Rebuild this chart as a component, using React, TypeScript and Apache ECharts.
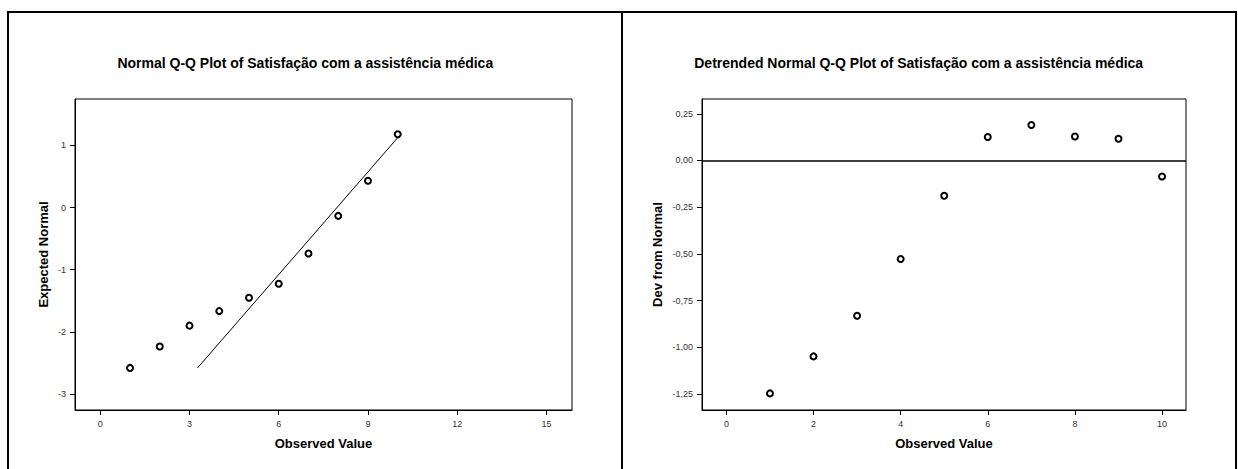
import React, { useEffect, useRef } from "react";
import * as echarts from "echarts";

const observedValues = [1, 2, 3, 4, 5, 6, 7, 8, 9, 10];
const expectedNormal = [-2.58, -2.235, -1.9, -1.666, -1.45, -1.227, -0.74, -0.134, 0.43, 1.18];
const devFromNormal = [-1.247, -1.049, -0.831, -0.528, -0.189, 0.126, 0.19, 0.128, 0.116, -0.086];
const refLineX = [3.27, 10.03];
const refLineY = [-2.58, 1.14];

const leftXTicks = [0, 3, 6, 9, 12, 15];
const leftYTicks = [-3, -2, -1, 0, 1];
const rightXTicks = [0, 2, 4, 6, 8, 10];
const rightYTicks = [-1.25, -1.0, -0.75, -0.5, -0.25, 0, 0.25];

const leftTitle = "Normal Q-Q Plot of Satisfação com a assistência médica";
const rightTitle = "Detrended Normal Q-Q Plot of Satisfação com a assistência médica";
const xName = "Observed Value";
const leftYName = "Expected Normal";
const rightYName = "Dev from Normal";

const FONT = "'Liberation Sans', Arial, Helvetica, sans-serif";

function axisCommon(ticks: number[], formatter?: (v: number) => string) {
  return {
    type: "value" as const,
    axisLine: { show: true, onZero: false, lineStyle: { color: "#000", width: 1 } },
    axisTick: { show: true, inside: false, length: 5, customValues: ticks, lineStyle: { color: "#000", width: 1 } },
    axisLabel: {
      show: true,
      customValues: ticks,
      fontSize: 9,
      color: "#333",
      fontFamily: FONT,
      margin: 9,
      formatter: formatter || ((v: number) => String(v)),
    },
    splitLine: { show: false },
    nameLocation: "middle" as const,
    nameTextStyle: { fontSize: 13, fontWeight: "bold" as const, color: "#000", fontFamily: FONT },
  };
}

const commaFmt = (v: number) => v.toFixed(2).replace(".", ",");

export default function App() {
  const ref = useRef<HTMLDivElement>(null);
  useEffect(() => {
    if (!ref.current) return;
    const chart = echarts.init(ref.current, undefined, { renderer: "svg" });
    const scatterStyle = {
      type: "scatter" as const,
      symbol: "circle",
      symbolSize: 6,
      itemStyle: { color: "#fff", borderColor: "#000", borderWidth: 2, opacity: 1 },
      silent: true,
    };
    chart.setOption({
      animation: false,
      backgroundColor: "#fff",
      grid: [
        { left: 75, top: 99, width: 497, height: 311, show: true, borderColor: "#000", borderWidth: 1, backgroundColor: "transparent" },
        { left: 702, top: 99, width: 484, height: 311, show: true, borderColor: "#000", borderWidth: 1, backgroundColor: "transparent" },
      ],
      xAxis: [
        { ...axisCommon(leftXTicks), gridIndex: 0, min: -0.85, max: 15.86, name: xName, nameGap: 27 },
        { ...axisCommon(rightXTicks), gridIndex: 1, min: -0.56, max: 10.55, name: xName, nameGap: 27 },
      ],
      yAxis: [
        { ...axisCommon(leftYTicks), gridIndex: 0, min: -3.257, max: 1.746, name: leftYName, nameGap: 25 },
        { ...axisCommon(rightYTicks, commaFmt), gridIndex: 1, min: -1.336, max: 0.329, name: rightYName, nameGap: 38 },
      ],
      graphic: [
        {
          type: "rect",
          shape: { x: 8, y: 12, width: 1228, height: 470 },
          style: { fill: "none", stroke: "#000", lineWidth: 2 },
          silent: true,
        },
        {
          type: "line",
          shape: { x1: 622, y1: 12, x2: 622, y2: 480 },
          style: { stroke: "#000", lineWidth: 2 },
          silent: true,
        },
        {
          type: "text",
          x: 305.3,
          y: 62.5,
          style: { text: leftTitle, textAlign: "center", textVerticalAlign: "middle", fontSize: 14, fontWeight: "bold", fontFamily: FONT, fill: "#000" },
        },
        {
          type: "text",
          x: 918.7,
          y: 62.5,
          style: { text: rightTitle, textAlign: "center", textVerticalAlign: "middle", fontSize: 14, fontWeight: "bold", fontFamily: FONT, fill: "#000" },
        },
      ],
      series: [
        {
          type: "line",
          xAxisIndex: 0,
          yAxisIndex: 0,
          data: refLineX.map((x, i) => [x, refLineY[i]]),
          showSymbol: false,
          symbol: "none",
          lineStyle: { color: "#000", width: 1 },
          silent: true,
        },
        {
          ...scatterStyle,
          xAxisIndex: 0,
          yAxisIndex: 0,
          data: observedValues.map((x, i) => [x, expectedNormal[i]]),
        },
        {
          ...scatterStyle,
          xAxisIndex: 1,
          yAxisIndex: 1,
          data: observedValues.map((x, i) => [x, devFromNormal[i]]),
          markLine: {
            silent: true,
            symbol: "none",
            label: { show: false },
            lineStyle: { color: "#000", type: "solid", width: 1.5 },
            data: [{ yAxis: 0 }],
          },
        },
      ],
    });
    return () => chart.dispose();
  }, []);
  return (
    <div
      ref={ref}
      style={{ position: "fixed", left: 0, top: 0, width: 1238, height: 469, background: "#fff" }}
    />
  );
}
